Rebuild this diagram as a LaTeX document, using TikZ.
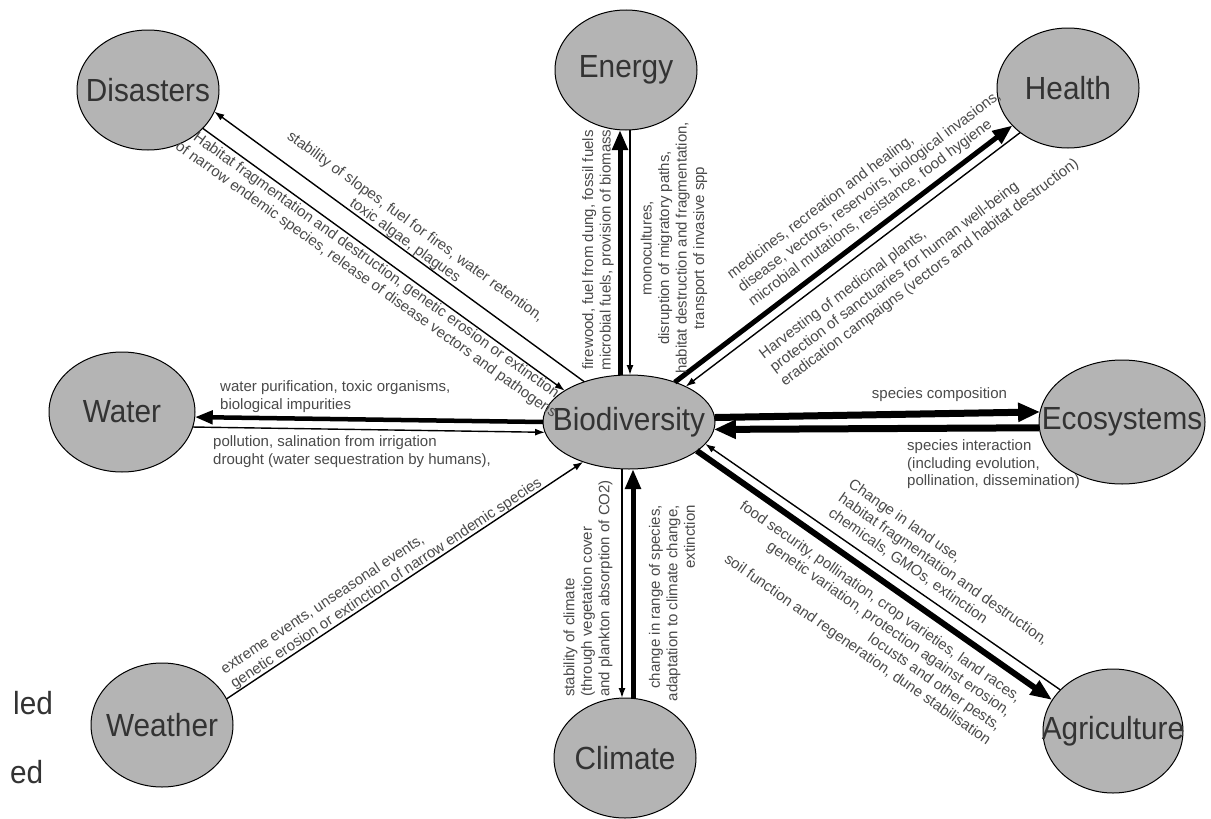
\documentclass[tikz,border=0pt]{standalone}
\usepackage{fontspec}
\setmainfont{Liberation Sans}
\newfontfamily\nodefont[FakeStretch=0.93]{Liberation Sans}
\usetikzlibrary{arrows.meta,shapes.geometric,calc}
\definecolor{ellgray}{HTML}{B4B4B4}
\definecolor{elltext}{HTML}{333333}
\definecolor{labgray}{HTML}{4A4A4A}
\begin{document}
\begin{tikzpicture}[x=1pt,y=-1pt,
  topic/.style={ellipse, draw=black, line width=1pt, fill=ellgray, minimum width=142pt, minimum height=120pt, inner sep=0pt, outer sep=0pt},
  toptext/.style={font=\nodefont\fontsize{32}{34}\selectfont, text=elltext, inner sep=0pt},
  lab/.style={font=\fontsize{15}{17.5}\selectfont, text=labgray, inner sep=0pt},
  thinarr/.style={line width=1.4pt, -{Latex[length=10pt,width=7pt]}},
  thickarr/.style={line width=5pt, -{Triangle[length=20pt,width=15pt]}},
  ecoarr/.style={line width=7pt, -{Triangle[length=22pt,width=18pt]}},
  agriarr/.style={line width=6pt, -{Triangle[length=22pt,width=16pt]}},
  waterarr/.style={line width=4.5pt, -{Triangle[length=18pt,width=13pt]}},
]
\useasboundingbox[fill=white] (0,0) rectangle (1211,819);

\node[topic, label={[toptext]center:Disasters}] (dis) at (148,90) {};
\node[topic, label={[toptext]center:Energy}] (en) at (626,70) {};
\node[topic, label={[toptext]center:Health}] (hea) at (1068,88) {};
\node[topic, minimum width=146pt, label={[toptext]center:Water}] (wat) at (122,412) {};
\node[topic, minimum width=172pt, minimum height=94pt, label={[toptext]center:Biodiversity}] (bio) at (629,422) {};
\node[topic, minimum width=166pt, minimum height=124pt, label={[toptext]center:Ecosystems}] (eco) at (1122,422) {};
\node[topic, minimum height=124pt, label={[toptext]center:Weather}] (wea) at (162,725) {};
\node[topic, label={[toptext]center:Climate}] (cli) at (625,758) {};
\node[topic, minimum width=140pt, minimum height=124pt, label={[toptext]center:Agriculture}] (agr) at (1113,731) {};

% Disasters
\draw[thinarr] (bio.138) -- (dis.-18);
\draw[thinarr] (dis.-35) -- (bio.154);
% Energy
\draw[thickarr] ([xshift=-9pt]bio.north) -- ([xshift=-6pt]en.south);
\draw[thinarr] ([xshift=4pt]en.south) -- ([xshift=1pt]bio.north);
% Health
\draw[thickarr] (bio.41) -- (hea.214);
\draw[thinarr] (hea.223) -- (bio.32);
% Water
\draw[waterarr] (bio.180) -- (wat.-4);
\draw[thinarr] (wat.-12) -- (bio.187);
% Ecosystems
\draw[ecoarr] (bio.3) -- (eco.173);
\draw[ecoarr] (eco.184) -- (bio.-5);
% Weather
\draw[thinarr] (wea.22) -- (bio.221);
% Climate
\draw[thinarr] ([xshift=-7pt]bio.south) -- ([xshift=-3pt]cli.north);
\draw[thickarr] ([xshift=8pt]cli.north) -- ([xshift=4pt]bio.south);
% Agriculture
\draw[agriarr] (bio.-23) -- (agr.153);
\draw[thinarr] (agr.142) -- (bio.-16);

% labels
\node[lab, align=center, rotate=-36] (t1) at (410,234) {stability of slopes, fuel for fires, water retention,\\toxic algae, plagues};
\node[lab, align=center, rotate=-35.5] (t2) at (371,273) {Habitat fragmentation and destruction, genetic erosion or extinction\\of narrow endemic species, release of disease vectors and pathogens};
\node[lab, align=center, rotate=90] (t3) at (598,250) {firewood, fuel from dung, fossil fuels\\microbial fuels, provision of biomass};
\node[lab, align=center, rotate=90] (t4) at (674,248) {monocultures,\\disruption of migratory paths,\\habitat destruction and fragmentation,\\transport of invasive spp};
\node[lab, align=left, rotate=37, anchor=west] (t5) at (740,290) {medicines, recreation and healing,\\disease, vectors, reservoirs, biological invasions,\\microbial mutations, resistance, food hygiene};
\node[lab, align=left, rotate=37, anchor=west] (t6) at (772,370) {Harvesting of medicinal plants,\\protection of sanctuaries for human well-being\\eradication campaigns (vectors and habitat destruction)};
\node[lab, align=left, anchor=west] (t7) at (220,396.5) {water purification, toxic organisms,\\biological impurities};
\node[lab, align=left, anchor=west] (t8) at (213,451.5) {pollution, salination from irrigation\\drought (water sequestration by humans),};
\node[lab] (t9) at (939.5,395) {species composition};
\node[lab, align=left, anchor=west] (t10) at (907,464.5) {species interaction\\(including evolution,\\pollination, dissemination)};
\node[lab, align=left, rotate=33.5, anchor=west] (t11) at (227.5,678.5) {extreme events, unseasonal events,\\genetic erosion or extinction of narrow endemic species};
\node[lab, align=left, rotate=90, anchor=west] (t12) at (588,697) {stability of climate\\(through vegetation cover\\and plankton absorption of CO2)};
\node[lab, align=right, rotate=90, anchor=east] (t13) at (672,505) {change in range of species,\\adaptation to climate change,\\extinction};
\node[lab, align=left, rotate=-35, anchor=west] (t14) at (840,497) {Change in land use,\\habitat fragmentation and destruction,\\chemicals, GMOs, extinction};
\node[lab, align=right, rotate=-35, anchor=east] (t15) at (1004,721) {food security, pollination, crop varieties, land races,\\genetic variation, protection against erosion,\\locusts and other pests,\\soil function and regeneration, dune stabilisation};

\node[toptext, anchor=west] (l1) at (13,703) {led};
\node[toptext, anchor=west] (l2) at (10,772) {ed};
\end{tikzpicture}
\end{document}
